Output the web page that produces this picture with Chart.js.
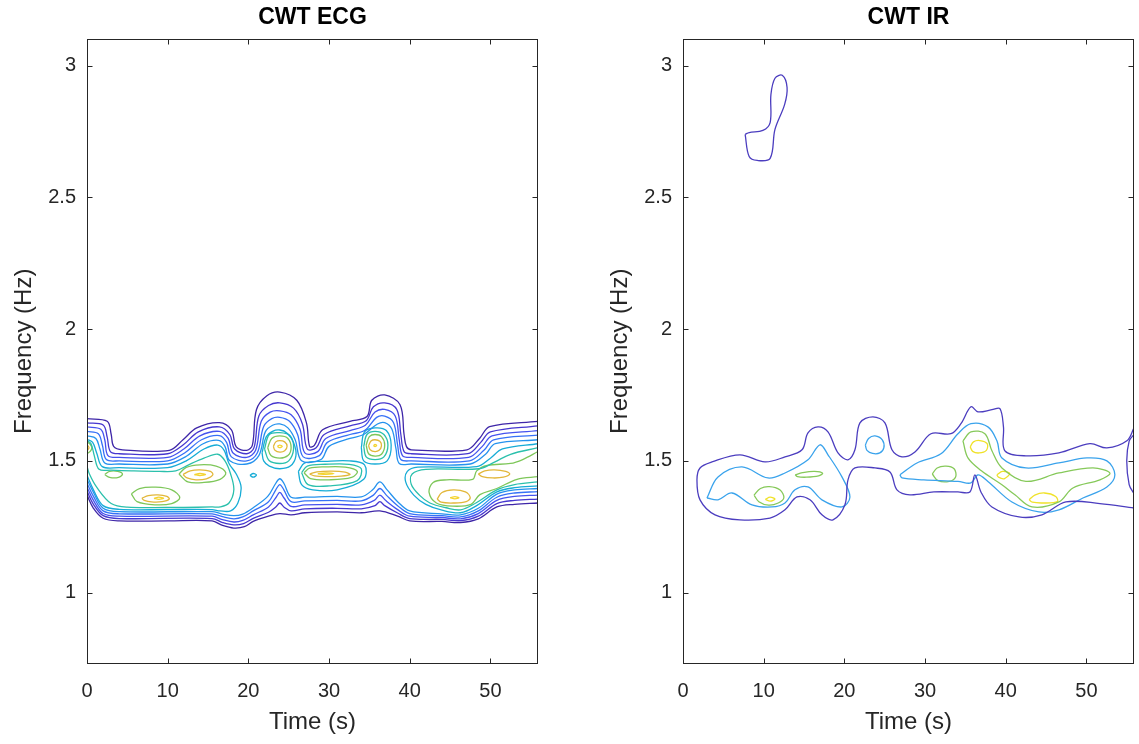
<!DOCTYPE html>
<html>
<head>
<meta charset="utf-8">
<title>CWT ECG / CWT IR</title>
<script src="https://cdn.jsdelivr.net/npm/chart.js@4.4.1/dist/chart.umd.min.js"></script>
<style>
  html, body { margin: 0; padding: 0; background: #fff; }
  #wrap { position: relative; width: 1139px; height: 744px; }
  .panel { position: absolute; top: 0; height: 744px; }
</style>
</head>
<body>
<div id="wrap">
  <div class="panel" style="left:0;width:548px"><canvas id="ecgChart"></canvas></div>
  <div class="panel" style="left:596px;width:543px"><canvas id="irChart"></canvas></div>
</div>
<script>
// --------------------
// AXES
// --------------------
const timeTicks = [0, 10, 20, 30, 40, 50];
const freqTicks = [1, 1.5, 2, 2.5, 3];
const timeRange = [0, 55.9];
const freqRange = [0.729, 3.1025];

// contour level colours (low -> high)
const ecgLevelColors = ["#3e26a8", "#4637cf", "#4552ee", "#3671f7", "#2592ee", "#17acd6", "#2bc0ac", "#7ec75a", "#e2b73a", "#f4d430"];
const irLevelColors = ["#4b3dbf", "#3aa3ec", "#86c95a", "#f0e22a"];

// --------------------
// CWT ECG contours: [time s, freq Hz]
// --------------------
const ecgTop1 = [[0,1.66],[2.5,1.65],[3.0,1.60],[3.3,1.555],[4.4,1.542],[10.2,1.54],[11.9,1.58],[13.6,1.625],[16.4,1.645],[17.9,1.618],[18.5,1.553],[19.8,1.54],[20.5,1.56],[21,1.694],[22.3,1.747],[23.9,1.761],[26,1.73],[27.2,1.644],[27.6,1.554],[28.2,1.56],[29.2,1.618],[32.6,1.65],[34.7,1.668],[35.3,1.73],[36.9,1.75],[38.8,1.713],[39.3,1.60],[39.6,1.554],[40.2,1.542],[47.1,1.542],[48.7,1.587],[49.9,1.63],[55.9,1.65]];
const ecgTop2 = [[0,1.644],[2.0,1.636],[2.5,1.59],[2.9,1.535],[4,1.527],[10,1.527],[11.9,1.56],[13.8,1.61],[16.4,1.629],[17.7,1.60],[18.3,1.545],[19.8,1.527],[20.7,1.55],[21.3,1.67],[22.5,1.71],[23.9,1.72],[25.6,1.70],[26.7,1.64],[27.3,1.545],[28.4,1.55],[29.4,1.60],[32.6,1.633],[34.6,1.652],[35.5,1.705],[36.9,1.72],[38.4,1.695],[38.9,1.6],[39.3,1.535],[40.2,1.527],[47.2,1.527],[48.8,1.57],[50,1.61],[55.9,1.633]];
const ecgTop3 = [[0,1.629],[1.7,1.62],[2.2,1.58],[2.6,1.52],[4,1.513],[10,1.513],[12.0,1.545],[14,1.595],[16.4,1.612],[17.5,1.585],[18.1,1.53],[19.8,1.513],[20.9,1.54],[21.6,1.65],[22.7,1.685],[23.9,1.69],[25.3,1.675],[26.4,1.62],[27.0,1.53],[28.6,1.535],[29.6,1.585],[32.6,1.615],[34.5,1.635],[35.7,1.685],[36.9,1.695],[38.2,1.67],[38.7,1.58],[39.1,1.52],[40.2,1.513],[47.3,1.513],[49,1.555],[50.2,1.595],[55.9,1.615]];
const ecgTop4 = [[0,1.612],[1.4,1.603],[1.9,1.56],[2.4,1.505],[4,1.5],[10,1.5],[12.1,1.53],[14.2,1.58],[16.4,1.596],[17.3,1.57],[17.9,1.515],[19.8,1.5],[21.1,1.53],[21.9,1.63],[22.9,1.66],[23.9,1.665],[25.1,1.65],[26.1,1.6],[26.8,1.515],[28.8,1.52],[29.8,1.57],[32.6,1.6],[34.4,1.615],[35.9,1.665],[36.9,1.67],[38.0,1.645],[38.5,1.56],[38.9,1.505],[40.2,1.5],[47.4,1.5],[49.2,1.54],[50.4,1.58],[55.9,1.598]];
const ecgTop5 = [[0,1.595],[1.1,1.585],[1.6,1.545],[2.2,1.492],[4,1.488],[10,1.488],[12.2,1.515],[14.4,1.565],[16.3,1.578],[17.1,1.555],[17.7,1.5],[19.8,1.488],[21.3,1.52],[22.1,1.61],[23.0,1.635],[23.9,1.64],[24.9,1.625],[25.8,1.58],[26.6,1.5],[29,1.505],[30,1.555],[32.6,1.585],[34.3,1.6],[36.0,1.64],[36.9,1.645],[37.8,1.62],[38.3,1.545],[38.7,1.49],[40.2,1.488],[47.5,1.488],[49.4,1.525],[50.6,1.565],[55.9,1.58]];

const ecgBot1 = [[0,1.37],[0.8,1.32],[2,1.282],[4,1.272],[10,1.272],[15.5,1.272],[16.8,1.255],[18.2,1.245],[19.5,1.25],[20.6,1.27],[22.5,1.29],[23.9,1.30],[25.3,1.295],[27,1.303],[31,1.306],[34,1.303],[36.3,1.31],[38.5,1.29],[40,1.272],[44,1.27],[46.3,1.266],[48.5,1.28],[50.8,1.325],[53,1.335],[55.9,1.34]];
const ecgBot2 = [[0,1.385],[0.8,1.335],[2,1.292],[4,1.281],[15.5,1.281],[16.8,1.266],[18.2,1.257],[19.4,1.262],[20.6,1.282],[22.5,1.305],[23.4,1.325],[23.9,1.34],[24.4,1.325],[25.3,1.31],[27,1.318],[31,1.32],[34,1.318],[35.7,1.33],[36.3,1.345],[36.9,1.33],[38.5,1.302],[40,1.281],[44,1.278],[46.3,1.273],[48.5,1.29],[50.8,1.338],[53,1.35],[55.9,1.355]];
const ecgBot3 = [[0,1.40],[0.8,1.35],[2,1.30],[4,1.29],[15.5,1.29],[16.8,1.277],[18.2,1.268],[19.3,1.274],[20.6,1.295],[22.5,1.325],[23.4,1.36],[23.9,1.38],[24.4,1.36],[25.3,1.327],[27,1.333],[31,1.335],[34,1.333],[35.6,1.35],[36.3,1.37],[37.0,1.35],[38.5,1.315],[40,1.29],[44,1.285],[46.3,1.28],[48.5,1.30],[50.8,1.35],[53,1.365],[55.9,1.37]];
const ecgBot4 = [[0,1.415],[0.8,1.365],[2,1.31],[4,1.299],[15.5,1.299],[16.8,1.288],[18.2,1.28],[19.3,1.287],[20.6,1.31],[22.5,1.345],[23.4,1.39],[23.9,1.41],[24.4,1.39],[25.3,1.345],[27,1.348],[31,1.35],[34,1.348],[35.5,1.37],[36.3,1.395],[37.1,1.37],[38.5,1.33],[40,1.30],[44,1.292],[46.3,1.287],[48.5,1.31],[50.8,1.362],[53,1.378],[55.9,1.383]];
const ecgBot5 = [[0,1.43],[0.8,1.38],[2,1.32],[4,1.307],[15.5,1.307],[16.8,1.298],[18.2,1.292],[19.3,1.298],[20.6,1.322],[22.4,1.365],[23.4,1.415],[23.9,1.432],[24.4,1.415],[25.3,1.362],[27,1.362],[31,1.365],[34,1.363],[35.4,1.39],[36.3,1.42],[37.2,1.39],[38.5,1.345],[40,1.31],[44,1.299],[46.3,1.295],[48.5,1.32],[50.8,1.374],[53,1.39],[55.9,1.395]];

const ecgL6Left = [[0,1.582],[0.7,1.57],[1.2,1.53],[1.9,1.478],[4,1.474],[10,1.474],[12.3,1.50],[14.5,1.545],[16.2,1.56],[17,1.54],[17.6,1.49],[18.5,1.45],[19.1,1.40],[18.7,1.34],[17.8,1.31],[16.5,1.31],[15.5,1.315],[10,1.315],[4,1.316],[2,1.33],[0.8,1.39],[0,1.445]];
const ecgL6Dot = [[20.2,1.445],[20.6,1.452],[21.0,1.446],[20.6,1.438]];
const ecgL6Peak24 = [[21.7,1.53],[22.2,1.59],[23.0,1.612],[23.9,1.617],[24.8,1.605],[25.6,1.57],[25.9,1.52],[25.2,1.48],[23.9,1.47],[22.6,1.48],[21.9,1.50]];
const ecgL6Mid31 = [[26.2,1.46],[27,1.492],[29.5,1.498],[32.5,1.5],[34.4,1.485],[34.3,1.43],[31,1.39],[28,1.39],[26.6,1.41]];
const ecgL6Peak36 = [[34.0,1.55],[34.4,1.61],[35.7,1.625],[37.1,1.615],[37.7,1.56],[37.2,1.5],[35.7,1.488],[34.3,1.5]];
const ecgL6Right = [[55.9,1.565],[51.5,1.545],[50,1.51],[48.3,1.478],[41,1.476],[39.7,1.46],[39.5,1.42],[40.5,1.37],[42,1.335],[44,1.313],[46.3,1.303],[48.3,1.33],[50.8,1.382],[53,1.398],[55.9,1.405]];

const ecgL7Left = [[0,1.577],[0.5,1.565],[0.9,1.52],[1.5,1.468],[3,1.465],[5.5,1.462],[9,1.46],[11,1.462],[12.6,1.485],[14.5,1.51],[16.2,1.525],[17.1,1.50],[17.8,1.45],[18.2,1.39],[17.6,1.34],[16.5,1.325],[15.5,1.325],[12,1.323],[10,1.323],[5,1.324],[3,1.338],[1.2,1.40],[0.3,1.45],[0,1.48]];
const ecgL7Peak24 = [[22.0,1.545],[22.6,1.60],[23.9,1.607],[25.2,1.595],[25.6,1.545],[25.0,1.5],[23.9,1.49],[22.6,1.5]];
const ecgL7Mid31 = [[26.6,1.455],[27.3,1.48],[29.5,1.487],[32.5,1.487],[34.0,1.47],[33.5,1.425],[30,1.405],[27.4,1.41]];
const ecgL7Peak36 = [[34.3,1.555],[34.7,1.60],[35.7,1.612],[36.8,1.60],[37.3,1.56],[36.8,1.515],[35.7,1.505],[34.6,1.515]];
const ecgL7Right = [[55.9,1.55],[52.5,1.525],[50.5,1.495],[48.6,1.47],[42,1.468],[40.3,1.45],[40.2,1.41],[41.2,1.37],[42.5,1.34],[44.5,1.322],[46.3,1.314],[48.2,1.34],[50.8,1.39],[53,1.41],[55.9,1.42]];

const ecgL8Edge = [[0,1.572],[0.4,1.563],[0.6,1.55],[0.4,1.536],[0,1.528]];
const ecgL8Low3 = [[2.2,1.448],[2.8,1.46],[3.8,1.46],[4.4,1.45],[3.9,1.437],[2.8,1.437]];
const ecgL8Low9 = [[5.5,1.375],[6.5,1.395],[8.5,1.40],[10.5,1.39],[11.5,1.36],[10.5,1.338],[8.5,1.333],[6.2,1.345]];
const ecgL8Mid14 = [[11.4,1.45],[12.3,1.475],[14,1.485],[16,1.48],[17.2,1.455],[16.5,1.43],[14.5,1.418],[12.5,1.42]];
const ecgL8Peak24 = [[22.4,1.55],[22.9,1.585],[23.9,1.595],[24.9,1.585],[25.3,1.55],[24.9,1.52],[23.9,1.51],[22.8,1.52]];
const ecgL8Mid31 = [[26.9,1.455],[27.6,1.472],[29.5,1.477],[32,1.476],[33.5,1.46],[32.8,1.437],[30,1.428],[27.7,1.433]];
const ecgL8Peak36 = [[34.6,1.56],[35.0,1.592],[35.7,1.6],[36.5,1.592],[36.9,1.56],[36.5,1.525],[35.7,1.518],[34.9,1.527]];
const ecgL8Right = [[55.9,1.535],[54,1.505],[52.5,1.49],[49.6,1.483],[48.3,1.462],[47.8,1.43],[44.6,1.428],[42.9,1.418],[42.4,1.38],[43.3,1.34],[45.3,1.328],[47.6,1.335],[48.7,1.372],[50.8,1.395],[53.3,1.43],[55.9,1.44]];

const ecgL9Edge = [[0,1.562],[0.25,1.55],[0,1.538]];
const ecgL9Mid14 = [[11.9,1.448],[12.8,1.462],[14,1.466],[15.3,1.46],[15.6,1.447],[14.8,1.432],[13.5,1.428],[12.4,1.435]];
const ecgL9Low9 = [[6.8,1.358],[7.6,1.368],[8.8,1.371],[9.9,1.365],[10.2,1.355],[9.3,1.345],[8,1.344],[7.1,1.35]];
const ecgL9Peak24 = [[23.1,1.555],[23.4,1.572],[23.9,1.577],[24.5,1.572],[24.8,1.555],[24.5,1.538],[23.9,1.533],[23.3,1.54]];
const ecgL9Mid31 = [[27.6,1.45],[28.5,1.458],[30.3,1.461],[32,1.457],[32.6,1.448],[31.5,1.442],[29.5,1.44],[28.2,1.443]];
const ecgL9Peak36 = [[34.9,1.558],[35.2,1.575],[35.7,1.58],[36.3,1.574],[36.5,1.557],[36.2,1.54],[35.7,1.535],[35.1,1.542]];
const ecgL9Low45 = [[43.4,1.355],[44,1.38],[45.4,1.39],[46.9,1.382],[47.5,1.36],[47,1.345],[45.4,1.34],[43.9,1.343]];
const ecgL9Mid50 = [[48.5,1.45],[49.3,1.462],[50.5,1.466],[51.9,1.46],[52.4,1.45],[51.6,1.438],[50.3,1.435],[49,1.44]];

const ecgL10Low9 = [[8.3,1.358],[8.9,1.362],[9.5,1.358],[8.9,1.354]];
const ecgL10Mid14 = [[13.3,1.448],[14,1.452],[14.7,1.448],[14,1.444]];
const ecgL10Peak24 = [[23.6,1.555],[23.9,1.56],[24.2,1.555],[23.9,1.55]];
const ecgL10Mid31 = [[28.6,1.451],[29.6,1.454],[30.6,1.452],[29.6,1.449]];
const ecgL10Peak36 = [[35.5,1.558],[35.7,1.562],[35.9,1.558],[35.7,1.554]];
const ecgL10Low45 = [[45,1.36],[45.6,1.364],[46.1,1.36],[45.6,1.356]];

// --------------------
// CWT IR contours
// --------------------
const irOuter = [[55.9,1.625],[55.02,1.576],[52.54,1.549],[50.43,1.565],[46.59,1.53],[42.5,1.519],[39.9,1.538],[39.72,1.629],[39.28,1.698],[38.29,1.694],[36.56,1.686],[35.69,1.705],[34.45,1.641],[33.21,1.603],[30.73,1.603],[28.75,1.534],[27.14,1.515],[25.9,1.542],[25.03,1.644],[23.54,1.667],[21.93,1.644],[21.31,1.542],[20.45,1.504],[19.21,1.53],[17.97,1.61],[16.73,1.629],[15.49,1.606],[14.75,1.542],[12.64,1.515],[10.16,1.496],[7.06,1.523],[3.59,1.496],[2.11,1.473],[1.73,1.428],[2.11,1.352],[3.97,1.295],[7.06,1.276],[10.78,1.283],[12.64,1.314],[14.13,1.363],[15.74,1.352],[17.22,1.295],[18.59,1.276],[20.07,1.333],[20.45,1.428],[21.31,1.473],[23.79,1.473],[25.65,1.458],[26.52,1.39],[28.13,1.371],[31.1,1.382],[34.08,1.382],[35.56,1.382],[36.18,1.447],[36.93,1.382],[38.29,1.325],[41.64,1.287],[44.49,1.295],[47.46,1.344],[51.67,1.338],[55.9,1.321]];
const irEdge = [[55.9,1.60],[55.3,1.575],[55.0,1.50],[55.3,1.41],[55.9,1.375]];
const irTopLoop = [[7.7,2.739],[8.2,2.655],[9.2,2.64],[10.8,2.648],[11.4,2.758],[12.6,2.853],[12.9,2.917],[12.3,2.963],[11.4,2.952],[10.9,2.891],[10.8,2.784],[9.9,2.754],[8.2,2.746]];
const irBlueLeft = [[2.97,1.359],[4.34,1.439],[7.31,1.477],[10.53,1.435],[12.64,1.454],[15.49,1.504],[16.98,1.561],[17.97,1.523],[19.7,1.439],[20.69,1.363],[19.7,1.325],[17.22,1.352],[15.49,1.401],[13.88,1.39],[12.64,1.34],[11.03,1.325],[8.55,1.333],[6.07,1.378],[4.34,1.352]];
const irBlueDot = [[22.6,1.56],[23.0,1.585],[23.8,1.595],[24.7,1.58],[24.9,1.55],[24.4,1.53],[23.5,1.528],[22.8,1.54]];
const irBlueRight = [[26.89,1.447],[29.0,1.492],[31.97,1.527],[34.08,1.603],[35.69,1.641],[37.79,1.629],[38.91,1.576],[39.53,1.511],[42.5,1.473],[46.59,1.492],[50.06,1.511],[52.54,1.5],[53.53,1.447],[52.54,1.401],[49.57,1.359],[46.59,1.314],[44.11,1.306],[40.77,1.344],[37.79,1.422],[36.56,1.447],[35.69,1.416],[34.08,1.422],[29.86,1.428],[27.14,1.435]];
const irGreen10 = [[8.8,1.37],[9.6,1.395],[10.7,1.402],[12.0,1.39],[12.5,1.36],[11.8,1.34],[10.6,1.332],[9.4,1.345]];
const irGreen15 = [[13.9,1.447],[14.8,1.455],[16.3,1.46],[17.3,1.453],[16.8,1.443],[15.3,1.438],[14.2,1.44]];
const irGreen32 = [[30.9,1.45],[31.5,1.473],[32.6,1.48],[33.6,1.47],[33.8,1.44],[33.0,1.422],[31.6,1.425]];
const irGreenRight = [[34.7,1.576],[35.69,1.61],[37.42,1.603],[38.29,1.538],[39.53,1.473],[42.5,1.422],[46.59,1.454],[50.81,1.473],[52.91,1.454],[51.67,1.428],[48.33,1.397],[46.59,1.344],[43.25,1.325],[41.14,1.371],[39.53,1.409],[36.99,1.462],[35.32,1.511]];
const irYellow11 = [[10.2,1.354],[10.8,1.362],[11.4,1.355],[10.8,1.347]];
const irYellow36 = [[35.6,1.553],[36.0,1.572],[36.8,1.577],[37.7,1.565],[37.6,1.54],[36.7,1.53],[35.9,1.536]];
const irYellow40 = [[38.9,1.447],[39.6,1.46],[40.5,1.452],[39.8,1.432],[39.1,1.438]];
const irYellow45 = [[42.9,1.352],[43.6,1.37],[44.8,1.378],[46.2,1.365],[46.4,1.345],[44.6,1.34],[43.3,1.343]];

// [points, level, closed]
const ecgContours = [
  [ecgTop1, 0, false], [ecgBot1, 0, false],
  [ecgTop2, 1, false], [ecgBot2, 1, false],
  [ecgTop3, 2, false], [ecgBot3, 2, false],
  [ecgTop4, 3, false], [ecgBot4, 3, false],
  [ecgTop5, 4, false], [ecgBot5, 4, false],
  [ecgL6Left, 5, false], [ecgL6Dot, 5, true], [ecgL6Peak24, 5, true], [ecgL6Mid31, 5, true], [ecgL6Peak36, 5, true], [ecgL6Right, 5, false],
  [ecgL7Left, 6, false], [ecgL7Peak24, 6, true], [ecgL7Mid31, 6, true], [ecgL7Peak36, 6, true], [ecgL7Right, 6, false],
  [ecgL8Edge, 7, false], [ecgL8Low3, 7, true], [ecgL8Low9, 7, true], [ecgL8Mid14, 7, true], [ecgL8Peak24, 7, true], [ecgL8Mid31, 7, true], [ecgL8Peak36, 7, true], [ecgL8Right, 7, false],
  [ecgL9Edge, 8, false], [ecgL9Mid14, 8, true], [ecgL9Low9, 8, true], [ecgL9Peak24, 8, true], [ecgL9Mid31, 8, true], [ecgL9Peak36, 8, true], [ecgL9Low45, 8, true], [ecgL9Mid50, 8, true],
  [ecgL10Low9, 9, true], [ecgL10Mid14, 9, true], [ecgL10Peak24, 9, true], [ecgL10Mid31, 9, true], [ecgL10Peak36, 9, true], [ecgL10Low45, 9, true]
];

const irContours = [
  [irOuter, 0, false], [irEdge, 0, false], [irTopLoop, 0, true],
  [irBlueLeft, 1, true], [irBlueDot, 1, true], [irBlueRight, 1, true],
  [irGreen10, 2, true], [irGreen15, 2, true], [irGreen32, 2, true], [irGreenRight, 2, true],
  [irYellow11, 3, true], [irYellow36, 3, true], [irYellow40, 3, true], [irYellow45, 3, true]
];

// --------------------
// HELPERS
// --------------------
const fontFamily = "'Liberation Sans', Arial, Helvetica, sans-serif";
const axisColor = "#262626";

function toDatasets(list, colors) {
  return list.map(([pts, level, closed]) => {
    const data = pts.map(p => ({ x: p[0], y: p[1] }));
    if (closed) data.push({ x: pts[0][0], y: pts[0][1] });
    return {
      data: data,
      showLine: true,
      borderColor: colors[level],
      borderWidth: 1.3,
      pointRadius: 0,
      tension: 0.35,
      fill: false
    };
  });
}

// box round the plot area with inward tick marks on all four sides
const boxPlugin = {
  id: "matlabBox",
  afterDraw(chart) {
    const { ctx, chartArea: a, scales } = chart;
    const L = Math.round(a.left) + 0.5, R = Math.round(a.right) - 0.5;
    const T = Math.round(a.top) + 0.5, B = Math.round(a.bottom) - 0.5;
    ctx.save();
    ctx.strokeStyle = axisColor;
    ctx.lineWidth = 1;
    ctx.strokeRect(L, T, R - L, B - T);
    ctx.beginPath();
    timeTicks.forEach(v => {
      const px = Math.round(scales.x.getPixelForValue(v)) + 0.5;
      ctx.moveTo(px, B); ctx.lineTo(px, B - 5);
      ctx.moveTo(px, T); ctx.lineTo(px, T + 5);
    });
    freqTicks.forEach(v => {
      const py = Math.round(scales.y.getPixelForValue(v)) + 0.5;
      ctx.moveTo(L, py); ctx.lineTo(L + 5, py);
      ctx.moveTo(R, py); ctx.lineTo(R - 5, py);
    });
    ctx.stroke();
    ctx.restore();
  }
};

function makeChart(id, title, list, colors, padRight) {
  return new Chart(document.getElementById(id), {
    type: "scatter",
    data: { datasets: toDatasets(list, colors) },
    options: {
      animation: false,
      responsive: true,
      maintainAspectRatio: false,
      layout: { padding: { right: padRight } },
      plugins: {
        legend: { display: false },
        tooltip: { enabled: false },
        title: {
          display: true,
          text: title,
          fullSize: false,
          color: "#000",
          font: { family: fontFamily, size: 23, weight: "bold" },
          padding: { top: 4, bottom: 7 }
        }
      },
      scales: {
        x: {
          type: "linear",
          min: timeRange[0],
          max: timeRange[1],
          afterBuildTicks: s => { s.ticks = timeTicks.map(v => ({ value: v })); },
          afterFit: s => { s.height = 80; },
          grid: { display: false, drawTicks: false },
          border: { display: false },
          ticks: { padding: 15, color: axisColor, font: { family: fontFamily, size: 20 }, callback: v => String(v) },
          title: {
            display: true,
            text: "Time (s)",
            color: axisColor,
            font: { family: fontFamily, size: 24 },
            padding: { top: 0, bottom: 7 }
          }
        },
        y: {
          type: "linear",
          min: freqRange[0],
          max: freqRange[1],
          afterBuildTicks: s => { s.ticks = freqTicks.map(v => ({ value: v })); },
          afterFit: s => { s.width = 87; },
          grid: { display: false, drawTicks: false },
          border: { display: false },
          ticks: { padding: 11, color: axisColor, font: { family: fontFamily, size: 20 }, callback: v => String(v) },
          title: {
            display: true,
            text: "Frequency (Hz)",
            color: axisColor,
            font: { family: fontFamily, size: 24 },
            padding: { top: 10, bottom: 0 }
          }
        }
      }
    },
    plugins: [boxPlugin]
  });
}

makeChart("ecgChart", "CWT ECG", ecgContours, ecgLevelColors, 10);
makeChart("irChart", "CWT IR", irContours, irLevelColors, 5);
</script>
</body>
</html>
